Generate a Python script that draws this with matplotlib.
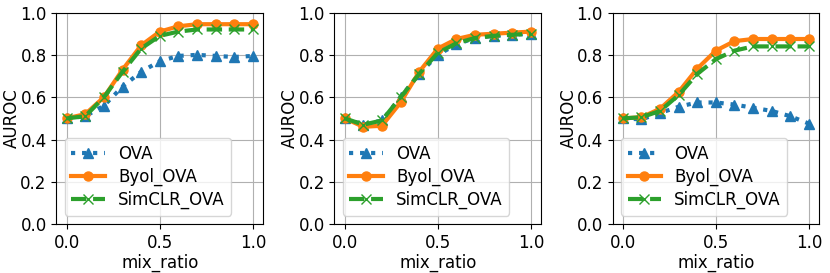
import numpy as np
import matplotlib
matplotlib.use("Agg")
import matplotlib.pyplot as plt

# mix ratios
mix_ratio = [0.0, 0.1, 0.2, 0.3, 0.4, 0.5, 0.6, 0.7, 0.8, 0.9, 1.0]

# panel 1
ova_1 = [0.50, 0.51, 0.56, 0.65, 0.72, 0.77, 0.795, 0.80, 0.795, 0.79, 0.795]
byol_1 = [0.50, 0.52, 0.60, 0.73, 0.845, 0.91, 0.935, 0.945, 0.945, 0.945, 0.945]
simclr_1 = [0.50, 0.51, 0.60, 0.72, 0.83, 0.89, 0.91, 0.92, 0.92, 0.92, 0.92]

# panel 2
ova_2 = [0.50, 0.47, 0.49, 0.60, 0.71, 0.80, 0.85, 0.88, 0.89, 0.895, 0.90]
byol_2 = [0.50, 0.46, 0.465, 0.575, 0.72, 0.83, 0.875, 0.895, 0.90, 0.905, 0.91]
simclr_2 = [0.50, 0.47, 0.49, 0.60, 0.71, 0.81, 0.855, 0.88, 0.89, 0.895, 0.90]

# panel 3
ova_3 = [0.50, 0.495, 0.525, 0.555, 0.575, 0.575, 0.565, 0.55, 0.535, 0.51, 0.475]
byol_3 = [0.50, 0.505, 0.545, 0.625, 0.735, 0.82, 0.865, 0.875, 0.875, 0.875, 0.875]
simclr_3 = [0.50, 0.505, 0.535, 0.61, 0.71, 0.78, 0.82, 0.84, 0.84, 0.84, 0.84]

panels = [(ova_1, byol_1, simclr_1), (ova_2, byol_2, simclr_2), (ova_3, byol_3, simclr_3)]

plt.rcParams['font.size'] = 12

fig = plt.figure(figsize=(8.3, 2.73), dpi=100)
lefts = [0.068, 0.403, 0.738]
for left, (ova, byol, simclr) in zip(lefts, panels):
    ax = fig.add_axes([left, 0.179, 0.249, 0.775])
    ax.plot(mix_ratio, ova, ':', marker='^', color='tab:blue', lw=3, ms=6.5, label='OVA')
    ax.plot(mix_ratio, byol, '-', marker='o', color='tab:orange', lw=3, ms=6.5, label='Byol_OVA')
    ax.plot(mix_ratio, simclr, '--', marker='x', color='tab:green', lw=3, ms=6.5, label='SimCLR_OVA')
    ax.set_ylim(0.0, 1.0)
    ax.set_xlim(-0.055, 1.055)
    ax.set_xticks([0.0, 0.5, 1.0])
    ax.set_yticks([0.0, 0.2, 0.4, 0.6, 0.8, 1.0])
    ax.grid(True)
    ax.set_xlabel('mix_ratio', labelpad=1)
    ax.set_ylabel('AUROC')
    ax.yaxis.set_label_coords(-0.17, 0.5)
    ax.legend(loc='lower left', fontsize=12, labelspacing=0.3)

plt.savefig("out.png")
